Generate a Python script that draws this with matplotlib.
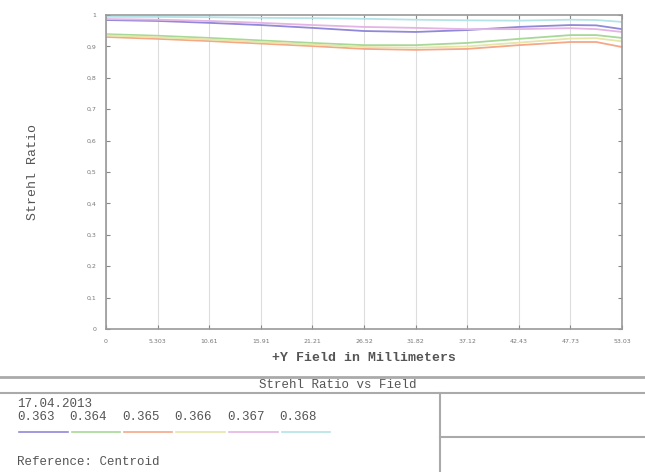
import matplotlib
matplotlib.use("Agg")
import matplotlib.pyplot as plt
from matplotlib.lines import Line2D

# field positions (mm) and tick labels
field = [0, 5.303, 10.61, 15.91, 21.21, 26.52, 31.82, 37.12, 42.43, 47.73, 50.38, 53.03]
x_ticks = [0, 5.303, 10.61, 15.91, 21.21, 26.52, 31.82, 37.12, 42.43, 47.73, 53.03]
x_ticklabels = ["0", "5.303", "10.61", "15.91", "21.21", "26.52", "31.82",
                "37.12", "42.43", "47.73", "53.03"]
y_ticks = [0, 0.1, 0.2, 0.3, 0.4, 0.5, 0.6, 0.7, 0.8, 0.9, 1.0]
y_ticklabels = ["0", "0,1", "0,2", "0,3", "0,4", "0,5", "0,6", "0,7", "0,8", "0,9", "1"]

# strehl ratio per wavelength (um)
wavelengths = ["0.363", "0.364", "0.365", "0.366", "0.367", "0.368"]
s_363 = [0.984, 0.981, 0.975, 0.968, 0.959, 0.949, 0.946, 0.952, 0.962, 0.968, 0.967, 0.955]
s_364 = [0.939, 0.934, 0.927, 0.919, 0.911, 0.904, 0.904, 0.911, 0.924, 0.936, 0.936, 0.927]
s_365 = [0.930, 0.924, 0.917, 0.909, 0.901, 0.892, 0.889, 0.892, 0.904, 0.914, 0.914, 0.898]
s_366 = [0.935, 0.929, 0.922, 0.914, 0.906, 0.898, 0.896, 0.900, 0.912, 0.925, 0.926, 0.916]
s_367 = [0.987, 0.985, 0.981, 0.975, 0.968, 0.962, 0.959, 0.955, 0.955, 0.958, 0.955, 0.946]
s_368 = [0.994, 0.994, 0.993, 0.991, 0.990, 0.988, 0.985, 0.983, 0.982, 0.985, 0.984, 0.978]
series = [s_363, s_364, s_365, s_366, s_367, s_368]
colors = ["#9088d8", "#a8d898", "#f4a888", "#e6e6a8", "#e4b4e4", "#b4e4e8"]

W, H = 645, 472
mono = "Liberation Mono"
txt = "#555555"
edge = "#999999"

fig = plt.figure(figsize=(W / 100, H / 100), dpi=100)
fig.patch.set_facecolor("white")

def fx(px):
    return px / W

def fy(py):
    return 1 - py / H

ax = fig.add_axes([fx(106), fy(329), fx(622) - fx(106), fy(15) - fy(329)])
for s, c in zip(series, colors):
    ax.plot(field, s, color=c, linewidth=1.3)

ax.set_xlim(0, 53.03)
ax.set_ylim(0, 1)
ax.set_xticks(x_ticks)
ax.set_xticklabels(x_ticklabels)
ax.set_yticks(y_ticks)
ax.set_yticklabels(y_ticklabels)
ax.tick_params(direction="in", length=3, width=0.8, color="#888888",
               labelsize=4.5, labelcolor="#777777", top=True, right=True, pad=7)
ax.grid(True, axis="x", color="#dddddd", linewidth=0.8)
for sp in ax.spines.values():
    sp.set_color(edge)
    sp.set_linewidth(1.2)

ax.set_xlabel("+Y Field in Millimeters", fontfamily=mono, fontsize=9.5,
              color=txt, fontweight="bold", labelpad=6)
ax.set_ylabel("Strehl Ratio", fontfamily=mono, fontsize=9.5, color=txt, labelpad=34)

# bottom information panel
def hline(y, x0, x1, lw=1.5):
    fig.add_artist(Line2D([fx(x0), fx(x1)], [fy(y), fy(y)], color="#aaaaaa", linewidth=lw))

def vline(x, y0, y1, lw=1.5):
    fig.add_artist(Line2D([fx(x), fx(x)], [fy(y0), fy(y1)], color="#aaaaaa", linewidth=lw))

hline(377, 0, W, 2)
hline(393, 0, W, 1.5)
vline(440, 393, H, 1.5)
hline(437, 440, W, 1.5)

fig.text(fx(338), fy(385), "Strehl Ratio vs Field", fontfamily=mono, fontsize=9,
         color=txt, ha="center", va="center")
fig.text(fx(17), fy(404), "17.04.2013", fontfamily=mono, fontsize=9,
         color=txt, ha="left", va="center")
step = 52.5
for i, (w, c) in enumerate(zip(wavelengths, colors)):
    x0 = 17 + i * step
    fig.text(fx(x0), fy(417), w, fontfamily=mono, fontsize=9,
             color=txt, ha="left", va="center")
    fig.add_artist(Line2D([fx(x0 + 2), fx(x0 + step - 2)], [fy(432), fy(432)],
                          color=c, linewidth=1.2))
fig.text(fx(17), fy(462), "Reference: Centroid", fontfamily=mono, fontsize=9,
         color=txt, ha="left", va="center")

fig.savefig("out.png", dpi=100)
